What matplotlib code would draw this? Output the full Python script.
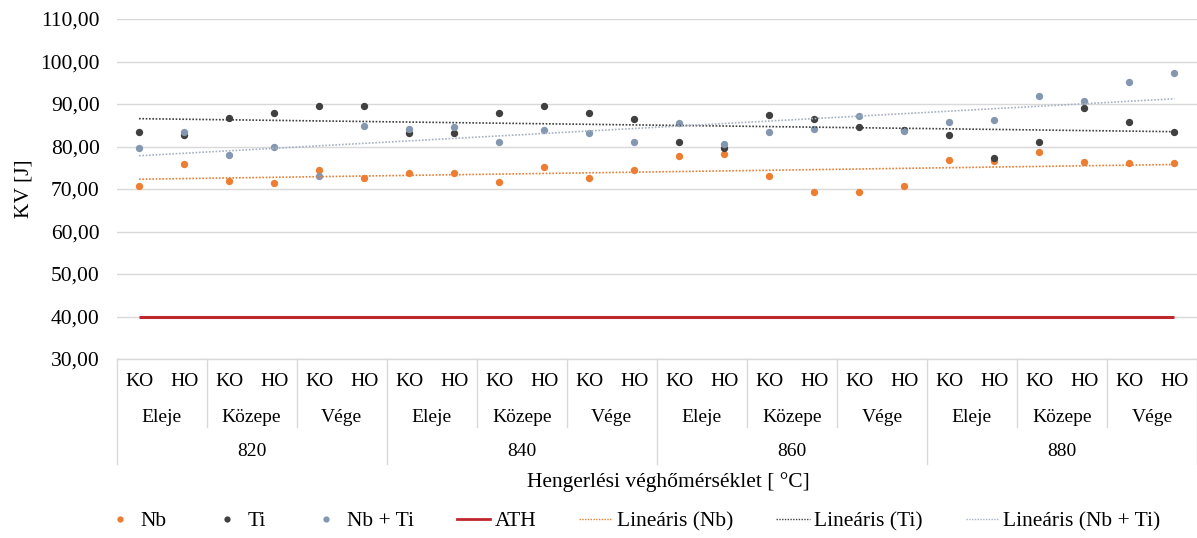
import numpy as np
import matplotlib
matplotlib.use("Agg")
import matplotlib.pyplot as plt
from matplotlib.lines import Line2D
import matplotlib.transforms as mtransforms

plt.rcParams['font.family'] = ['Liberation Serif', 'DejaVu Serif']

# ---------------- data ----------------
positions = ["KO", "HO"] * 12
sections = ["Eleje", "Közepe", "Vége"] * 4
temperatures = ["820", "840", "860", "880"]

nb = [70.7, 75.8, 71.8, 71.4, 74.4, 72.5, 73.8, 73.8, 71.7, 75.1, 72.5, 74.4,
      77.7, 78.3, 73.0, 69.4, 69.4, 70.7, 76.8, 76.5, 78.6, 76.3, 76.1, 76.1]
ti = [83.3, 82.8, 86.7, 88.0, 89.5, 89.5, 83.1, 83.1, 88.0, 89.5, 87.8, 86.5,
      81.1, 79.6, 87.5, 86.5, 84.5, 84.0, 82.8, 77.4, 81.0, 89.0, 85.8, 83.4]
nbti = [79.7, 83.4, 78.1, 80.0, 73.0, 84.9, 84.2, 84.5, 81.1, 83.8, 83.2, 81.1,
        85.5, 80.6, 83.4, 84.2, 87.2, 83.6, 85.8, 86.2, 91.8, 90.8, 95.2, 97.4]
ath = [40.0] * 24

yticks = [30, 40, 50, 60, 70, 80, 90, 100, 110]

series_labels = ["Nb", "Ti", "Nb + Ti", "ATH",
                 "Lineáris (Nb)", "Lineáris (Ti)", "Lineáris (Nb + Ti)"]

# ---------------- style ----------------
c_nb = "#ED7D31"
c_ti = "#404040"
c_nbti = "#8497B0"
c_nbti_tr = "#A5B1C2"
c_ath = "#C0262D"
c_grid = "#D9D9D9"
fs_cat = 14
fs = 15.5

W, H = 1197, 538
fig = plt.figure(figsize=(W / 100, H / 100), dpi=100)
ax_left, ax_right, ax_top, ax_bottom = 116.5, 1197, 19, 359
ax = fig.add_axes([ax_left / W, 1 - ax_bottom / H,
                   (ax_right - ax_left) / W, (ax_bottom - ax_top) / H])

x = np.arange(len(positions))

ax.scatter(x, nb, s=28, color=c_nb, zorder=3, linewidths=0)
ax.scatter(x, ti, s=28, color=c_ti, zorder=3, linewidths=0)
ax.scatter(x, nbti, s=28, color=c_nbti, zorder=3, linewidths=0)
ax.plot(x, ath, color=c_ath, lw=2.2, zorder=2, solid_capstyle='butt')

# linear trendlines
dot = (0, (1, 1))
for vals, col in [(nb, c_nb), (ti, c_ti), (nbti, c_nbti_tr)]:
    k, b = np.polyfit(x, vals, 1)
    ax.plot(x, k * x + b, color=col, lw=1.2, linestyle=dot, zorder=4)

ax.set_xlim(-0.5, len(positions) - 0.5)
ax.set_ylim(30, 110)
ax.set_yticks(yticks)
ax.set_yticklabels([f"{v:.2f}".replace('.', ',') for v in yticks], fontsize=fs)
ax.tick_params(axis='y', length=0, pad=12)
ax.set_xticks([])
ax.yaxis.grid(True, color=c_grid, lw=1)
ax.set_axisbelow(True)
for s in ["left", "right", "top"]:
    ax.spines[s].set_visible(False)
ax.spines["bottom"].set_color(c_grid)
ax.spines["bottom"].set_linewidth(1)

ax.set_ylabel("KV [J]", fontsize=fs)
ax.yaxis.set_label_coords(-(116.5 - 24) / (ax_right - ax_left), 0.5)
ax.yaxis.label.set_va('center')

# ---------------- multi-level category axis ----------------
trans = mtransforms.blended_transform_factory(ax.transData, ax.transAxes)
hpx = ax_bottom - ax_top
def ay(py):
    return (ax_bottom - py) / hpx

y_row1, y_row2, y_row3 = ay(382), ay(417), ay(452)
y_short, y_long = ay(427), ay(464)

for i, lab in enumerate(positions):
    ax.text(i, y_row1, lab, transform=trans, ha='center', va='center', fontsize=fs_cat)
for j, lab in enumerate(sections):
    ax.text(2 * j + 0.5, y_row2, lab, transform=trans, ha='center', va='center', fontsize=fs_cat)
for j, lab in enumerate(temperatures):
    ax.text(6 * j + 2.5, y_row3, lab, transform=trans, ha='center', va='center', fontsize=fs_cat)

for j in range(len(sections) + 1):
    xb = 2 * j - 0.5
    ylow = y_long if j % 3 == 0 else y_short
    ax.plot([xb, xb], [0, ylow], transform=trans, color=c_grid, lw=1, clip_on=False)

fig.text(668 / W, 1 - 482 / H, "Hengerlési véghőmérséklet [ °C]",
         ha='center', va='center', fontsize=fs)

# ---------------- legend ----------------
handles = [
    Line2D([], [], marker='o', ls='none', color=c_nb, markersize=4.5, markeredgewidth=0),
    Line2D([], [], marker='o', ls='none', color=c_ti, markersize=4.5, markeredgewidth=0),
    Line2D([], [], marker='o', ls='none', color=c_nbti, markersize=4.5, markeredgewidth=0),
    Line2D([], [], color=c_ath, lw=2),
    Line2D([], [], color=c_nb, lw=1, linestyle=dot),
    Line2D([], [], color=c_ti, lw=1, linestyle=dot),
    Line2D([], [], color=c_nbti_tr, lw=1, linestyle=dot),
]
fig.legend(handles, series_labels, loc='center left', bbox_to_anchor=(103 / W, 1 - 521 / H),
           ncol=7, frameon=False, fontsize=fs, handlelength=1.55, handletextpad=0.2,
           columnspacing=2.0, borderaxespad=0, borderpad=0)

fig.savefig("out.png", dpi=100)
